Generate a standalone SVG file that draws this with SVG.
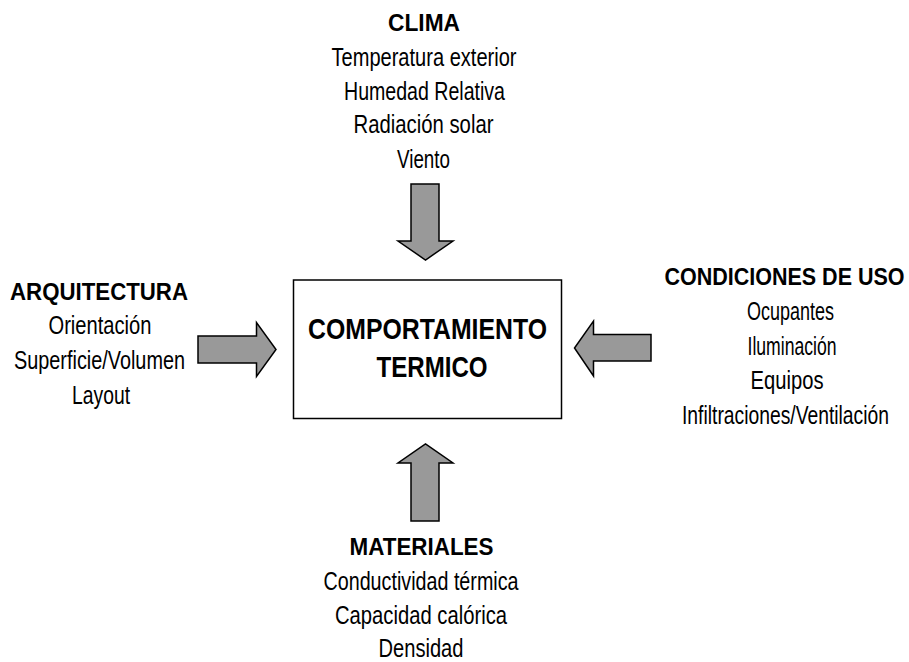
<svg xmlns="http://www.w3.org/2000/svg" width="909" height="662" viewBox="0 0 909 662">
<style>
text{font-family:"Liberation Sans Narrow","Liberation Sans",Arial,sans-serif;fill:#000;text-anchor:middle}
.h{font-weight:bold;font-size:24px}
.t{font-size:25px}
.m{font-weight:bold;font-size:30px}
.arrow{fill:#999999;stroke:#000;stroke-width:1.5;stroke-linejoin:miter}
.box{fill:#fff;stroke:#000;stroke-width:1.5}
</style>
<rect width="909" height="662" fill="#fff"/>
<g id="connectors">
<polygon class="arrow" points="411,184 439,184 439,241 453,241 425.5,260 398,241 411,241"/>
<polygon class="arrow" points="411,521 439,521 439,463 453,463 425.5,444 398,463 411,463"/>
<polygon class="arrow" points="198,336 256.5,336 256.5,322.5 276,349.5 256.5,376.5 256.5,363 198,363"/>
<polygon class="arrow" points="651,334.5 593.5,334.5 593.5,321 574.5,348 593.5,376 593.5,361 651,361"/>
</g>
<g id="comportamiento">
<rect class="box" x="293.5" y="280" width="268" height="138.5"/>
<text class="m" x="427.5" y="338.5" textLength="239" lengthAdjust="spacingAndGlyphs">COMPORTAMIENTO</text>
<text class="m" x="432" y="377" textLength="111" lengthAdjust="spacingAndGlyphs">TERMICO</text>
</g>
<g id="clima">
<text class="h" x="424" y="30.5" textLength="72" lengthAdjust="spacingAndGlyphs">CLIMA</text>
<text class="t" x="424" y="65.5" textLength="185" lengthAdjust="spacingAndGlyphs">Temperatura exterior</text>
<text class="t" x="424.5" y="100" textLength="161" lengthAdjust="spacingAndGlyphs">Humedad Relativa</text>
<text class="t" x="423.5" y="133" textLength="140" lengthAdjust="spacingAndGlyphs">Radiación solar</text>
<text class="t" x="423.5" y="168" textLength="53" lengthAdjust="spacingAndGlyphs">Viento</text>
</g>
<g id="arquitectura">
<text class="h" x="99" y="300" textLength="178" lengthAdjust="spacingAndGlyphs">ARQUITECTURA</text>
<text class="t" x="100" y="334" textLength="103" lengthAdjust="spacingAndGlyphs">Orientación</text>
<text class="t" x="99.5" y="368.5" textLength="171" lengthAdjust="spacingAndGlyphs">Superficie/Volumen</text>
<text class="t" x="101" y="403.5" textLength="58" lengthAdjust="spacingAndGlyphs">Layout</text>
</g>
<g id="condiciones">
<text class="h" x="784.5" y="285" textLength="240" lengthAdjust="spacingAndGlyphs">CONDICIONES DE USO</text>
<text class="t" x="790.5" y="320" textLength="87" lengthAdjust="spacingAndGlyphs">Ocupantes</text>
<text class="t" x="792" y="355" textLength="89" lengthAdjust="spacingAndGlyphs">Iluminación</text>
<text class="t" x="787" y="388.5" textLength="73" lengthAdjust="spacingAndGlyphs">Equipos</text>
<text class="t" x="785.5" y="423.5" textLength="207" lengthAdjust="spacingAndGlyphs">Infiltraciones/Ventilación</text>
</g>
<g id="materiales">
<text class="h" x="421.5" y="555" textLength="144" lengthAdjust="spacingAndGlyphs">MATERIALES</text>
<text class="t" x="421" y="589.5" textLength="195" lengthAdjust="spacingAndGlyphs">Conductividad térmica</text>
<text class="t" x="421" y="624" textLength="172" lengthAdjust="spacingAndGlyphs">Capacidad calórica</text>
<text class="t" x="421" y="656.5" textLength="85" lengthAdjust="spacingAndGlyphs">Densidad</text>
</g>
</svg>
